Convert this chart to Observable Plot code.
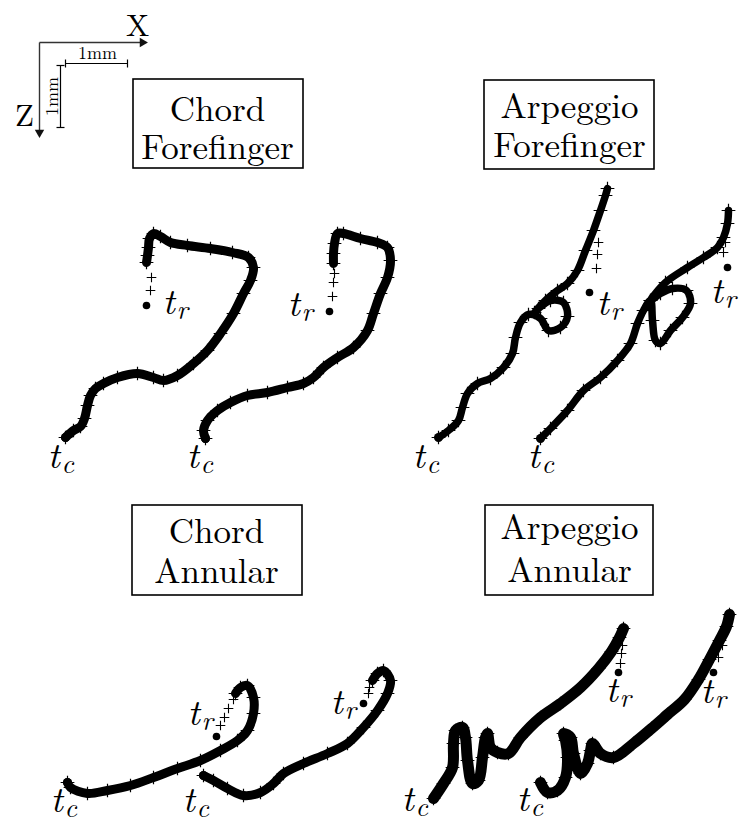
<!DOCTYPE html>
<html><head><meta charset="utf-8">
<script src="https://cdn.jsdelivr.net/npm/d3@7"></script>
<script src="https://cdn.jsdelivr.net/npm/@observablehq/plot@0.6"></script>
<style>
body{margin:0;background:#fff}
#chart svg{display:block;background:#fff}
</style>
</head><body><div id="chart"></div>
<script>
// Figure units: picture pixels (about 62 units per mm); y grows downward (Z axis)
const panelNames = ["Chord Forefinger", "Arpeggio Forefinger", "Chord Annular", "Arpeggio Annular"];
const titleLines = [["Chord", "Forefinger"], ["Arpeggio", "Forefinger"], ["Chord", "Annular"], ["Arpeggio", "Annular"]];

// Trajectories from t_c (first point) towards t_r
const chordForeA = [[65,437],[73,430],[80,426],[84,418],[87,405],[90,395],[95,388],[103,383],[117,377],[137,373],[153,377],[163,380],[177,375],[193,363],[207,350],[220,333],[233,313],[243,293],[250,280],[253,267],[248,257],[232,252],[210,248],[187,245],[170,242],[160,236],[153,233],[149,238],[148,247],[147,255],[146,262]];
const chordForeAPlus = [[151,277],[150,290]];
const chordForeATr = [146,305];

const chordForeB = [[205,438],[203,430],[207,420],[217,410],[230,402],[247,395],[267,392],[287,387],[303,383],[313,377],[323,367],[337,357],[353,347],[367,330],[373,313],[380,293],[387,277],[390,260],[387,247],[377,242],[360,238],[343,233],[337,233],[334,243],[333,253],[333,263]];
const chordForeBPlus = [[334,273],[333,282],[332,296]];
const chordForeBTr = [329,311];

const arpForeA = [[438,437],[448,430],[458,420],[462,407],[467,393],[477,383],[490,378],[503,367],[512,353],[515,337],[520,322],[528,314],[540,318],[548,330],[560,327],[567,316],[563,302],[550,300],[538,308],[534,312],[545,300],[557,290],[567,283],[577,270],[585,250],[593,230],[600,210],[605,195],[607,188]];
const arpForeAPlus = [[598,242],[597,254],[596,268]];
const arpForeATr = [589,292];

const arpForeB = [[540,438],[550,428],[567,410],[583,390],[600,377],[617,360],[630,343],[637,323],[643,310],[650,300],[652,320],[655,340],[660,343],[670,330],[682,317],[690,303],[686,290],[672,288],[660,293],[650,300],[665,282],[687,267],[703,257],[717,247],[723,237],[727,223],[728,210]];
const arpForeBPlus = [[725,242],[723,252]];
const arpForeBTr = [727,267];

const chordAnnA = [[67,782],[70,787],[87,793],[107,790],[130,785],[153,777],[177,768],[200,760],[220,750],[237,740],[247,730],[253,713],[253,697],[247,685],[240,687],[235,693]];
const chordAnnAPlus = [[233,699],[228,708],[224,717],[220,725]];
const chordAnnATr = [216,736];

const chordAnnB = [[203,775],[213,780],[227,788],[243,795],[260,792],[273,783],[283,773],[303,763],[327,753],[347,743],[363,727],[377,710],[387,693],[390,680],[383,670],[377,673],[372,680]];
const chordAnnBPlus = [[369,687],[368,693]];
const chordAnnBTr = [363,703];

const arpAnnA = [[433,798],[443,783],[452,767],[453,743],[455,730],[462,727],[465,737],[467,760],[472,783],[478,780],[482,757],[485,737],[487,733],[490,747],[497,752],[508,753],[520,737],[540,717],[560,703],[580,687],[598,668],[611,651],[619,637],[623,628]];
const arpAnnAPlus = [[622,645],[621,653],[620,663]];
const arpAnnATr = [618,672];

const arpAnnB = [[540,782],[547,792],[557,790],[565,777],[567,757],[565,740],[563,733],[570,737],[573,753],[580,773],[587,763],[590,750],[592,743],[600,753],[613,757],[633,743],[651,728],[667,714],[684,699],[698,679],[709,659],[719,640],[726,626],[729,614]];
const arpAnnBPlus = [[722,645],[718,657]];
const arpAnnBTr = [713,672];

// label anchors ("t" left edge, baseline) and subscript letter
const tLabelX = [47,186,162,287, 412,527,596,710, 50,182,187,330, 401,516,605,700];
const tLabelY = [467,467,313,315, 467,467,314,302, 811,811,724,713, 810,810,701,702];
const tLabelSub = ["c","c","r","r", "c","c","r","r", "c","c","r","r", "c","c","r","r"];

// ---- build tables ----
const traj = [
  {panel:0, id:"CF-A", pts:chordForeA, plus:chordForeAPlus, tr:chordForeATr},
  {panel:0, id:"CF-B", pts:chordForeB, plus:chordForeBPlus, tr:chordForeBTr},
  {panel:1, id:"AF-A", pts:arpForeA, plus:arpForeAPlus, tr:arpForeATr},
  {panel:1, id:"AF-B", pts:arpForeB, plus:arpForeBPlus, tr:arpForeBTr},
  {panel:2, id:"CA-A", pts:chordAnnA, plus:chordAnnAPlus, tr:chordAnnATr},
  {panel:2, id:"CA-B", pts:chordAnnB, plus:chordAnnBPlus, tr:chordAnnBTr},
  {panel:3, id:"AA-A", pts:arpAnnA, plus:arpAnnAPlus, tr:arpAnnATr},
  {panel:3, id:"AA-B", pts:arpAnnB, plus:arpAnnBPlus, tr:arpAnnBTr}
];
const pathRows = traj.flatMap(t => t.pts.map(([x,y]) => ({id:t.id, panel:t.panel, x, y})));
const plusRows = traj.flatMap(t => t.plus.map(([x,y]) => ({id:t.id, x, y})));
const trRows = traj.map(t => ({x:t.tr[0], y:t.tr[1]}));
const tcRows = traj.map(t => ({x:t.pts[0][0], y:t.pts[0][1]}));
const tRows = tLabelX.map((x,i) => ({x, y:tLabelY[i], sub:tLabelSub[i]}));

// styles per panel
const panelStroke = [9, 7.5, 9, 11];
const titleSize = 35;

// layout of title boxes (annotation geometry): box, centre x, first / last baseline
const boxLayout = [
  {x1:133, x2:303, y1:79, y2:168, cx:217, b1:120, b2:158},
  {x1:484, x2:654, y1:80, y2:169, cx:569, b1:117, b2:156},
  {x1:132, x2:302, y1:505, y2:595, cx:216, b1:542, b2:582},
  {x1:485, x2:653, y1:505, y2:595, cx:569, b1:538, b2:581}
];

// scale-bar annotation
const axisOrigin = {x:39, y:42}, axisXEnd = 147, axisZEnd = 137;
const barH = {x1:65, x2:127, y:63}, barV = {x:60, y1:65, y2:127};
const tickHalf = 4;
const axisLinks = [
  {x1:axisOrigin.x, y1:axisOrigin.y, x2:axisXEnd-6, y2:axisOrigin.y},
  {x1:axisOrigin.x, y1:axisOrigin.y, x2:axisOrigin.x, y2:axisZEnd-6}
];
const heads = [{x:axisXEnd-5, y:axisOrigin.y, rot:90}, {x:axisOrigin.x, y:axisZEnd-5, rot:180}];
const barLinks = [
  {x1:barH.x1, y1:barH.y, x2:barH.x2, y2:barH.y},
  {x1:barH.x1, y1:barH.y-tickHalf, x2:barH.x1, y2:barH.y+tickHalf},
  {x1:barH.x2, y1:barH.y-tickHalf, x2:barH.x2, y2:barH.y+tickHalf},
  {x1:barV.x, y1:barV.y1, x2:barV.x, y2:barV.y2},
  {x1:barV.x-tickHalf, y1:barV.y1, x2:barV.x+tickHalf, y2:barV.y1},
  {x1:barV.x-tickHalf, y1:barV.y2, x2:barV.x+tickHalf, y2:barV.y2}
];

const serif = "Latin Modern Roman";

const chart = Plot.plot({
  width: 739, height: 823, margin: 0,
  style: {fontFamily: serif},
  x: {domain:[0,739], range:[0,739], axis:null},
  y: {domain:[0,823], range:[0,823], axis:null},
  marks: [
    // scale bar
    Plot.link(axisLinks, {x1:"x1", y1:"y1", x2:"x2", y2:"y2", stroke:"#333", strokeWidth:1.4}),
    Plot.dot(heads, {x:"x", y:"y", symbol:"triangle2", rotate:"rot", r:4.5, fill:"#111", stroke:"none"}),
    Plot.link(barLinks, {x1:"x1", y1:"y1", x2:"x2", y2:"y2", stroke:"#000", strokeWidth:1.2}),
    Plot.text([{x:137, y:35, t:"X"}, {x:24, y:125, t:"Z"}], {x:"x", y:"y", text:"t", fontSize:31, fontFamily:serif, lineAnchor:"bottom", fill:"#000"}),
    Plot.text([{x:97, y:58}], {x:"x", y:"y", text:() => "1mm", fontSize:18, fontFamily:serif, lineAnchor:"bottom", fill:"#000"}),
    Plot.text([{x:57, y:96}], {x:"x", y:"y", text:() => "1mm", rotate:-90, fontSize:18, fontFamily:serif, lineAnchor:"bottom", fill:"#000"}),
    // title boxes (two-line titles as one text each)
    Plot.rect(boxLayout, {x1:"x1", x2:"x2", y1:"y1", y2:"y2", fill:"none", stroke:"#000", strokeWidth:1.6}),
    ...boxLayout.map((b, i) => Plot.text([{x:b.cx, y:b.b2, text:titleLines[i].join("\n")}], {x:"x", y:"y", text:"text", fontSize:titleSize, lineHeight:(b.b2 - b.b1) / titleSize, fontFamily:serif, lineAnchor:"bottom", fill:"#000"})),
    // trajectories
    ...panelStroke.map((w, p) => Plot.line(pathRows.filter(d => d.panel === p), {x:"x", y:"y", z:"id", stroke:"#000", strokeWidth:w, strokeLinejoin:"round", strokeLinecap:"round", curve:"catmull-rom"})),
    Plot.dot(pathRows, {x:"x", y:"y", symbol:"plus", r:4.5, stroke:"#000", strokeWidth:1.2}),
    Plot.dot(plusRows, {x:"x", y:"y", symbol:"plus", r:3.2, stroke:"#000", strokeWidth:1.1}),
    Plot.dot(tcRows, {x:"x", y:"y", r:4.5, fill:"#000"}),
    Plot.dot(trRows, {x:"x", y:"y", r:3.8, fill:"#000"}),
    // t_c / t_r labels
    Plot.text(tRows, {x:"x", y:"y", text:() => "t", fontSize:37, fontStyle:"italic", fontFamily:serif, textAnchor:"start", lineAnchor:"bottom", fill:"#000"}),
    Plot.text(tRows, {x:"x", y:"y", text:"sub", dx:14, dy:5, fontSize:27, fontStyle:"italic", fontFamily:serif, textAnchor:"start", lineAnchor:"bottom", fill:"#000"})
  ]
});
document.getElementById("chart").append(chart);
</script>
</body></html>
